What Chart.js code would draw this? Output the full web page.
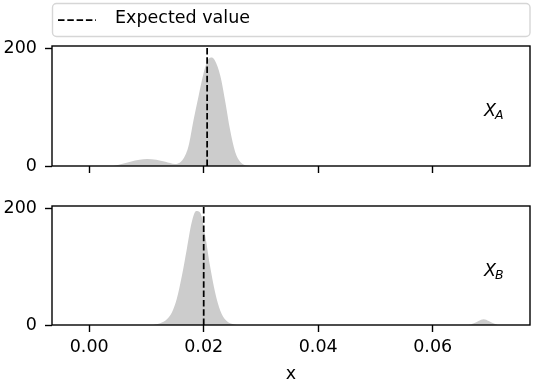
<!DOCTYPE html>
<html>
<head>
<meta charset="utf-8">
<script src="https://cdn.jsdelivr.net/npm/chart.js@4"></script>
<style>
  html, body { margin: 0; padding: 0; background: #fff; }
  #wrap { position: relative; width: 536px; height: 382px; }
  canvas { position: absolute; left: 0; }
</style>
</head>
<body>
<div id="wrap">
  <canvas id="cA" width="536" height="190" style="top:0px"></canvas>
  <canvas id="cB" width="536" height="209" style="top:173px"></canvas>
</div>
<script>
// ---- data ----
const xA = [0.0042, 0.0055, 0.0072, 0.0088, 0.0101, 0.0117, 0.0133, 0.0150, 0.0158, 0.0165, 0.01735, 0.0182, 0.0191, 0.0200, 0.0208, 0.02143, 0.0220, 0.0229, 0.0238, 0.0246, 0.0255, 0.0264, 0.0275, 0.0290];
const yA = [0, 3, 7.4, 10.5, 12, 10.5, 7.1, 3.5, 5.5, 13, 34, 77, 119, 159, 182, 185, 179, 154, 108, 62, 24, 7, 1, 0];
const xB = [0.0112, 0.0124, 0.01357, 0.01444, 0.0153, 0.0162, 0.01706, 0.0179, 0.01869, 0.0194, 0.02026, 0.0211, 0.0220, 0.0229, 0.0238, 0.0249, 0.0258, 0.0662, 0.0672, 0.0680, 0.0689, 0.0698, 0.0706, 0.0714];
const yB = [0, 3, 10, 21.5, 45, 85, 131, 176, 196, 193, 154, 102, 56, 24.5, 9, 2, 0, 0, 3, 7, 10, 7, 3, 0];
const expectedA = 0.0206;
const expectedB = 0.0200;
const xTicks = [0.00, 0.02, 0.04, 0.06];
const yTicks = [0, 200];
const xRange = [-0.0065, 0.0770];
const yRange = [0, 204.5];
const legendLabel = 'Expected value';
const axisTitle = 'x';
const panelLabels = [['X', 'A'], ['X', 'B']];

const FONT = '"DejaVu Sans", sans-serif';
const FS = 17.5;
const LW = 1.4;

function pts(xs, ys) { return xs.map((x, i) => ({x: x, y: ys[i]})); }

const framePlugin = {
  id: 'frame',
  afterDraw(chart, args, opts) {
    const ctx = chart.ctx, a = chart.chartArea;
    ctx.save();
    ctx.strokeStyle = '#000';
    ctx.lineWidth = LW;
    ctx.strokeRect(a.left, a.top, a.right - a.left, a.bottom - a.top);
    // panel label
    const lab = opts.label;
    if (lab) {
      const bx = a.left + 432, by = a.top + 70;
      ctx.fillStyle = '#000';
      ctx.textBaseline = 'alphabetic';
      ctx.textAlign = 'left';
      ctx.font = 'italic 17.5px ' + FONT;
      ctx.fillText(lab[0], bx, by);
      const w = ctx.measureText(lab[0]).width;
      ctx.font = 'italic 12.5px ' + FONT;
      ctx.fillText(lab[1], bx + w - 1, by + 3);
    }
    // legend
    if (opts.legend) {
      const l = a.left + 0.5, r = a.right, t = 3.5, b = 36.5, rad = 4;
      ctx.strokeStyle = '#d6d6d6';
      ctx.lineWidth = 1.4;
      ctx.beginPath();
      ctx.moveTo(l + rad, t);
      ctx.lineTo(r - rad, t); ctx.arcTo(r, t, r, t + rad, rad);
      ctx.lineTo(r, b - rad); ctx.arcTo(r, b, r - rad, b, rad);
      ctx.lineTo(l + rad, b); ctx.arcTo(l, b, l, b - rad, rad);
      ctx.lineTo(l, t + rad); ctx.arcTo(l, t, l + rad, t, rad);
      ctx.closePath();
      ctx.fillStyle = 'rgba(255,255,255,0.8)';
      ctx.fill();
      ctx.stroke();
      const ds = chart.data.datasets[0];
      ctx.strokeStyle = '#000';
      ctx.lineWidth = ds.borderWidth;
      ctx.setLineDash(ds.borderDash);
      ctx.beginPath();
      ctx.moveTo(58, 20); ctx.lineTo(96, 20);
      ctx.stroke();
      ctx.setLineDash([]);
      ctx.fillStyle = '#000';
      ctx.font = FS + 'px ' + FONT;
      ctx.textBaseline = 'alphabetic';
      ctx.fillText(ds.label, 115, 23);
    }
    ctx.restore();
  }
};

function makeChart(id, xs, ys, expected, opts) {
  return new Chart(document.getElementById(id), {
    type: 'line',
    data: {
      datasets: [
        {
          label: legendLabel,
          data: [{x: expected, y: yRange[0]}, {x: expected, y: yRange[1]}],
          borderColor: '#000', borderWidth: 1.75, borderDash: [6.5, 2.8],
          pointRadius: 0, fill: false, tension: 0
        },
        {
          label: 'density',
          data: pts(xs, ys),
          borderWidth: 0, borderColor: 'rgba(0,0,0,0)',
          backgroundColor: '#cccccc',
          fill: 'origin', pointRadius: 0,
          cubicInterpolationMode: 'monotone'
        }
      ]
    },
    options: {
      responsive: false, animation: false, devicePixelRatio: 1,
      events: [],
      layout: { padding: { top: opts.padTop, right: 6, left: 0, bottom: 0 } },
      plugins: { legend: { display: false }, tooltip: { enabled: false },
                 frame: { label: opts.label, legend: opts.legend } },
      scales: {
        x: {
          type: 'linear', min: xRange[0], max: xRange[1],
          afterBuildTicks: s => { s.ticks = xTicks.map(v => ({value: v})); },
          afterFit: s => { s.height = opts.xHeight; },
          grid: { drawOnChartArea: false, drawTicks: true, tickLength: 7, tickColor: '#000', tickWidth: LW },
          border: { display: false },
          ticks: { display: opts.showX, padding: 5, color: '#000', maxRotation: 0,
                   font: { family: FONT, size: FS },
                   callback: v => Number(v).toFixed(2) },
          title: { display: opts.showX, text: axisTitle, color: '#000',
                   font: { family: FONT, size: FS }, padding: { top: 0, bottom: -3 } }
        },
        y: {
          type: 'linear', min: yRange[0], max: yRange[1],
          afterBuildTicks: s => { s.ticks = yTicks.map(v => ({value: v})); },
          afterFit: s => { s.width = 52; },
          grid: { drawOnChartArea: false, drawTicks: true, tickLength: 7, tickColor: '#000', tickWidth: LW },
          border: { display: false },
          ticks: { padding: 8, color: '#000', font: { family: FONT, size: FS },
                   callback: v => String(v) }
        }
      }
    },
    plugins: [framePlugin]
  });
}

makeChart('cA', xA, yA, expectedA, { padTop: 46, xHeight: 24, showX: false, label: panelLabels[0], legend: true });
makeChart('cB', xB, yB, expectedB, { padTop: 33, xHeight: 57, showX: true, label: panelLabels[1], legend: false });
</script>
</body>
</html>
